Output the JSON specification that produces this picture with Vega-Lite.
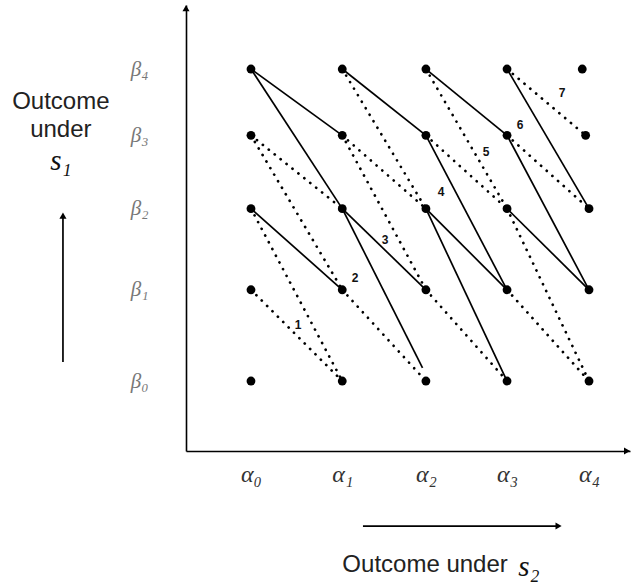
{
  "$schema": "https://vega.github.io/schema/vega-lite/v6.json",
  "width": 444,
  "height": 446,
  "autosize": "none",
  "padding": {"left": 186, "top": 5, "right": 3, "bottom": 135},
  "background": "white",
  "config": {"view": {"stroke": null}},
  "datasets": {
    "points": [
      {"x": 0, "y": 0}, {"x": 0, "y": 1.17}, {"x": 0, "y": 2.21}, {"x": 0, "y": 3.15}, {"x": 0, "y": 4},
      {"x": 1.08, "y": 0}, {"x": 1.08, "y": 1.17}, {"x": 1.08, "y": 2.21}, {"x": 1.08, "y": 3.15}, {"x": 1.08, "y": 4},
      {"x": 2.07, "y": 0}, {"x": 2.07, "y": 1.17}, {"x": 2.07, "y": 2.21}, {"x": 2.07, "y": 3.15}, {"x": 2.07, "y": 4},
      {"x": 3.03, "y": 0}, {"x": 3.03, "y": 1.17}, {"x": 3.03, "y": 2.21}, {"x": 3.03, "y": 3.15}, {"x": 3.03, "y": 4},
      {"x": 4, "y": 0}, {"x": 4, "y": 1.17}, {"x": 4, "y": 2.21}, {"x": 3.96, "y": 3.15}, {"x": 3.92, "y": 4}
    ],
    "segments": [
      {"x": 0, "y": 1.17, "x2": 1.08, "y2": 0, "style": "dotted"},
      {"x": 0, "y": 2.21, "x2": 1.08, "y2": 0, "style": "dotted"},
      {"x": 0, "y": 3.15, "x2": 1.08, "y2": 1.17, "style": "dotted"},
      {"x": 0, "y": 3.15, "x2": 1.08, "y2": 2.21, "style": "dotted"},
      {"x": 1.08, "y": 1.17, "x2": 2.07, "y2": 0, "style": "dotted"},
      {"x": 1.08, "y": 3.15, "x2": 2.07, "y2": 1.17, "style": "dotted"},
      {"x": 1.08, "y": 3.15, "x2": 2.07, "y2": 2.21, "style": "dotted"},
      {"x": 1.08, "y": 4, "x2": 2.07, "y2": 2.21, "style": "dotted"},
      {"x": 2.07, "y": 1.17, "x2": 3.03, "y2": 0, "style": "dotted"},
      {"x": 2.07, "y": 3.15, "x2": 3.03, "y2": 2.21, "style": "dotted"},
      {"x": 2.07, "y": 4, "x2": 3.03, "y2": 2.21, "style": "dotted"},
      {"x": 3.03, "y": 1.17, "x2": 4, "y2": 0, "style": "dotted"},
      {"x": 3.03, "y": 2.21, "x2": 4, "y2": 0, "style": "dotted"},
      {"x": 3.03, "y": 3.15, "x2": 4, "y2": 2.21, "style": "dotted"},
      {"x": 3.03, "y": 4, "x2": 3.96, "y2": 3.15, "style": "dotted"},
      {"x": 0, "y": 2.21, "x2": 1.08, "y2": 1.17, "style": "solid"},
      {"x": 0, "y": 4, "x2": 1.08, "y2": 3.15, "style": "solid"},
      {"x": 0, "y": 4, "x2": 1.08, "y2": 2.21, "style": "solid"},
      {"x": 1.08, "y": 2.21, "x2": 2.07, "y2": 1.17, "style": "solid"},
      {"x": 1.08, "y": 2.21, "x2": 2.03, "y2": 0.17, "style": "solid"},
      {"x": 1.08, "y": 4, "x2": 2.07, "y2": 3.15, "style": "solid"},
      {"x": 2.07, "y": 2.21, "x2": 3.03, "y2": 1.17, "style": "solid"},
      {"x": 2.07, "y": 2.21, "x2": 3.03, "y2": 0, "style": "solid"},
      {"x": 2.07, "y": 3.15, "x2": 3.03, "y2": 1.17, "style": "solid"},
      {"x": 2.07, "y": 4, "x2": 3.03, "y2": 3.15, "style": "solid"},
      {"x": 3.03, "y": 2.21, "x2": 4, "y2": 1.17, "style": "solid"},
      {"x": 3.03, "y": 3.15, "x2": 4, "y2": 1.17, "style": "solid"},
      {"x": 3.03, "y": 4, "x2": 4, "y2": 2.21, "style": "solid"},
      {"x": -2.225, "y": 0.244, "x2": -2.225, "y2": 2.1, "style": "arrow"},
      {"x": 1.325, "y": -1.859, "x2": 3.62, "y2": -1.859, "style": "arrow"}
    ],
    "heads": [
      {"x": -2.225, "y": 2.12, "shape": "triangle-up"},
      {"x": 3.64, "y": -1.859, "shape": "triangle-right"},
      {"x": -0.769, "y": 4.78, "shape": "triangle-up"},
      {"x": 4.45, "y": -0.897, "shape": "triangle-right"}
    ],
    "levels": [
      {"x": 0.556, "y": 0.718, "text": "1"},
      {"x": 1.231, "y": 1.321, "text": "2"},
      {"x": 1.586, "y": 1.808, "text": "3"},
      {"x": 2.249, "y": 2.423, "text": "4"},
      {"x": 2.781, "y": 2.936, "text": "5"},
      {"x": 3.183, "y": 3.282, "text": "6"},
      {"x": 3.68, "y": 3.692, "text": "7"}
    ],
    "sans": [
      {"x": -2.25, "y": 3.577, "text": "Outcome"},
      {"x": -2.25, "y": 3.218, "text": "under"},
      {"x": 2.06, "y": -2.359, "text": "Outcome under"}
    ],
    "math": [
      {"x": -2.25, "y": 2.82, "text": "s₁"},
      {"x": 3.29, "y": -2.38, "text": "s₂"}
    ]
  },
  "encoding": {
    "x": {
      "field": "x", "type": "quantitative",
      "scale": {"domain": [-0.769, 4.485], "nice": false, "zero": false},
      "axis": {
        "title": null, "values": [0, 1.08, 2.07, 3.03, 4],
        "labelExpr": "'α' + ['₀','₁','₂','₃','₄'][round(datum.value)]",
        "ticks": false, "tickSize": 0, "grid": false,
        "domainColor": "black", "domainWidth": 1.6,
        "labelFont": "Liberation Serif", "labelFontStyle": "italic", "labelFontSize": 24,
        "labelColor": "#333", "labelPadding": 11, "labelFlush": false, "labelOverlap": false
      }
    },
    "y": {
      "field": "y", "type": "quantitative",
      "scale": {"domain": [-0.897, 4.821], "nice": false, "zero": false},
      "axis": {
        "title": null, "values": [0, 1.17, 2.21, 3.15, 4],
        "labelExpr": "'β' + ['₀','₁','₂','₃','₄'][round(datum.value)]",
        "ticks": false, "tickSize": 0, "grid": false,
        "domainColor": "black", "domainWidth": 1.6,
        "labelFont": "Liberation Serif", "labelFontStyle": "italic", "labelFontSize": 21,
        "labelColor": "#777", "labelPadding": 38, "labelFlush": false, "labelOverlap": false
      }
    }
  },
  "layer": [
    {
      "data": {"name": "segments"},
      "transform": [{"filter": "datum.style == 'dotted'"}],
      "mark": {"type": "rule", "color": "black", "strokeWidth": 2.7, "strokeCap": "round", "strokeDash": [0.1, 7.5]},
      "encoding": {"x2": {"field": "x2"}, "y2": {"field": "y2"}}
    },
    {
      "data": {"name": "segments"},
      "transform": [{"filter": "datum.style != 'dotted'"}],
      "mark": {"type": "rule", "color": "black", "strokeWidth": 1.7},
      "encoding": {"x2": {"field": "x2"}, "y2": {"field": "y2"}}
    },
    {
      "data": {"name": "points"},
      "mark": {"type": "circle", "color": "black", "opacity": 1, "size": 78}
    },
    {
      "data": {"name": "heads"},
      "mark": {"type": "point", "filled": true, "color": "black", "opacity": 1, "size": 50},
      "encoding": {"shape": {"field": "shape", "type": "nominal", "scale": null}}
    },
    {
      "data": {"name": "levels"},
      "mark": {"type": "text", "font": "Liberation Sans", "fontWeight": "bold", "fontSize": 12, "color": "#111", "baseline": "middle", "align": "center"},
      "encoding": {"text": {"field": "text"}}
    },
    {
      "data": {"name": "sans"},
      "mark": {"type": "text", "font": "Liberation Sans", "fontSize": 24, "color": "#222", "baseline": "middle", "align": "center"},
      "encoding": {"text": {"field": "text"}}
    },
    {
      "data": {"name": "math"},
      "mark": {"type": "text", "font": "Liberation Serif", "fontStyle": "italic", "fontSize": 29, "color": "#111", "baseline": "middle", "align": "center"},
      "encoding": {"text": {"field": "text"}}
    }
  ]
}
